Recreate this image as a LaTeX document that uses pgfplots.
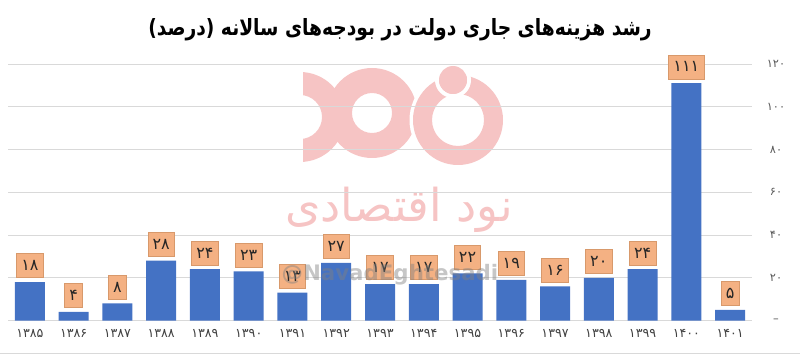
\documentclass[border=0pt]{standalone}
\usepackage{graphicx}
\usepackage{pgfplots}
\pgfplotsset{compat=1.18}
\usepackage{pgfplotstable}
\usepackage{fontspec}
\setmainfont{DejaVu Sans}
\newfontfamily\arabicfont[Script=Arabic]{DejaVu Sans}
\TeXXeTstate=1
\definecolor{barblue}{HTML}{4472C4}
\definecolor{lblfill}{HTML}{F4B183}
\definecolor{lbldraw}{HTML}{D8996B}
\definecolor{gridgray}{HTML}{D9D9D9}
\definecolor{wmpink}{HTML}{F6C4C4}
\definecolor{xlab}{HTML}{404040}
\definecolor{ylab}{HTML}{595959}

% Latin digits -> Persian digits
\def\pddigit#1{\ifcase#1 ۰\or ۱\or ۲\or ۳\or ۴\or ۵\or ۶\or ۷\or ۸\or ۹\fi}
\def\pdloop#1{\ifx\relax#1\else\pddigit{#1}\expandafter\pdloop\fi}
\def\pd#1{\pdloop#1\relax}

\pgfplotstableread{
x y
0 18
1 4
2 8
3 28
4 24
5 23
6 13
7 27
8 17
9 17
10 22
11 19
12 16
13 20
14 24
15 111
16 5
}\growthdata

\begin{document}
\begin{tikzpicture}
\path[use as bounding box] (0,0) rectangle (600pt,265.5pt);
% watermark logo and text (background)
\begin{scope}[x=0.75pt,y=-0.75pt,shift={(0pt,265.5pt)}]
  \begin{scope}
    \clip (303,63) rectangle (505,170);
    \fill[wmpink,even odd rule] (300,117) circle (45) (300,117) circle (22);
    \fill[wmpink,even odd rule] (372,113) circle (45) (372,113) circle (20);
    \draw[white,line width=3pt] (458,120) circle (46.5);
    \fill[wmpink,even odd rule] (458,120) circle (45) (458,120) circle (26);
    \draw[white,line width=3pt] (453,80) circle (16);
    \fill[wmpink] (453,80) circle (14);
  \end{scope}
  \node[text=wmpink,font=\arabicfont\fontsize{34}{34}\selectfont] at (399,210) {\beginR نود اقتصادی\endR};
\end{scope}

\begin{axis}[
  at={(6pt,25.125pt)}, anchor=south west,
  scale only axis, width=558pt, height=192.375pt,
  xmin=-0.5, xmax=16.5, ymin=0, ymax=120,
  axis line style={draw=none},
  ymajorgrids, grid style={gridgray, line width=0.75pt},
  ytick={0,20,...,120},
  yticklabels={–,۲۰,۴۰,۶۰,۸۰,۱۰۰,۱۲۰},
  yticklabel pos=right,
  yticklabel style={anchor=center, xshift=18pt, font=\arabicfont\fontsize{8.5}{8.5}\selectfont, text=ylab},
  xtick={0,...,16},
  xticklabels={۱۳۸۵,۱۳۸۶,۱۳۸۷,۱۳۸۸,۱۳۸۹,۱۳۹۰,۱۳۹۱,۱۳۹۲,۱۳۹۳,۱۳۹۴,۱۳۹۵,۱۳۹۶,۱۳۹۷,۱۳۹۸,۱۳۹۹,۱۴۰۰,۱۴۰۱},
  xticklabel style={anchor=center, yshift=-9.5pt, font=\arabicfont\fontsize{9.5}{9.5}\selectfont, text=xlab},
  major tick length=0pt, tick style={draw=none},
  ybar, bar width=22.5pt,
  point meta=explicit symbolic,
  nodes near coords={\edef\pdtmp{\pgfplotspointmeta}\expandafter\pd\expandafter{\pdtmp}},
  every node near coord/.append style={anchor=south, yshift=3pt, fill=lblfill, draw=lbldraw, line width=0.5pt,
     inner xsep=3.5pt, inner ysep=0pt, minimum height=18pt, text=black!85,
     font=\arabicfont\fontsize{12}{12}\selectfont},
]
\addplot[fill=barblue, draw=none] table[x=x, y=y, meta=y] {\growthdata};
\end{axis}

% title
\node[font=\arabicfont\bfseries\fontsize{14}{14}\selectfont, text=black] at (300pt,243.5pt)
  {\scalebox{1}[1.2]{\beginR رشد هزینه‌های جاری دولت در بودجه‌های سالانه (درصد)\endR}};
% handle watermark
\node[text=gray, opacity=0.45, font=\bfseries\fontsize{16}{16}\selectfont] at (292.5pt,59.25pt) {@NavadEghtesadi};
% bottom border
\draw[gridgray, line width=0.75pt] (0,0.5pt) -- (600pt,0.5pt);
\end{tikzpicture}
\end{document}
